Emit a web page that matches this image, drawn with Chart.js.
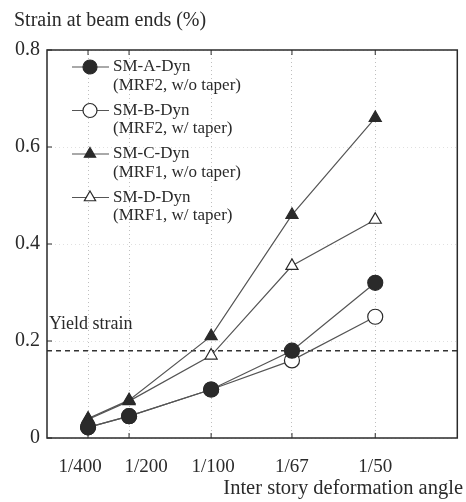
<!DOCTYPE html>
<html>
<head>
    <title>Strain at beam ends</title>
    <script src="https://cdn.jsdelivr.net/npm/chart.js"></script>
    <style>
        body { margin: 0; background: #fff; }
        #wrap { width: 466px; height: 502px; }
    </style>
</head>
<body>
    <div id="wrap"><canvas id="strainChart" width="466" height="502"></canvas></div>

    <script>
        // ===== DATA =====
        const angles = [1/400, 1/200, 1/100, 1/67, 1/50];
        const angleLabels = ['1/400', '1/200', '1/100', '1/67', '1/50'];
        const strainTicks = [0, 0.2, 0.4, 0.6, 0.8];
        const smA = [0.022, 0.045, 0.10, 0.18, 0.32];
        const smB = [0.022, 0.045, 0.10, 0.16, 0.25];
        const smC = [0.04, 0.078, 0.21, 0.46, 0.66];
        const smD = [0.038, 0.076, 0.17, 0.355, 0.45];
        const yieldStrain = 0.18;
        const seriesNames = [
            ['SM-A-Dyn', '(MRF2, w/o taper)'],
            ['SM-B-Dyn', '(MRF2, w/ taper)'],
            ['SM-C-Dyn', '(MRF1, w/o taper)'],
            ['SM-D-Dyn', '(MRF1, w/ taper)']
        ];

        const serif = "'Liberation Serif', 'DejaVu Serif', serif";
        const ink = '#2a2a2a';
        const toPts = ys => angles.map((a, i) => ({ x: a, y: ys[i] }));

        const series = [
            { data: smA, style: 'circle',   fill: ink },
            { data: smB, style: 'circle',   fill: '#fff' },
            { data: smC, style: 'triangle', fill: ink },
            { data: smD, style: 'triangle', fill: '#fff' }
        ];

        const datasets = series.map((s, i) => ({
            label: seriesNames[i][0],
            data: toPts(s.data),
            borderColor: '#555',
            borderWidth: 1.2,
            pointStyle: s.style,
            pointRadius: s.style === 'circle' ? 7.5 : 7,
            pointBackgroundColor: s.fill,
            pointBorderColor: ink,
            pointBorderWidth: 1.2,
            tension: 0
        }));

        datasets.push({
            label: 'Yield strain',
            data: [{ x: 0, y: yieldStrain }, { x: 0.025, y: yieldStrain }],
            borderColor: '#333',
            borderWidth: 1.6,
            borderDash: [5, 4],
            pointRadius: 0
        });

        // ===== FRAME, TITLES, LEGEND =====
        const decor = {
            id: 'decor',
            afterDatasetsDraw(chart) {
                const { ctx, chartArea: a, scales: { x, y } } = chart;
                ctx.save();

                // box + inward ticks
                ctx.strokeStyle = ink;
                ctx.lineWidth = 1.5;
                ctx.strokeRect(a.left, a.top, a.right - a.left, a.bottom - a.top);
                ctx.lineWidth = 1;
                angles.forEach(v => {
                    const px = x.getPixelForValue(v);
                    ctx.beginPath();
                    ctx.moveTo(px, a.bottom); ctx.lineTo(px, a.bottom - 5);
                    ctx.moveTo(px, a.top); ctx.lineTo(px, a.top + 5);
                    ctx.stroke();
                });
                strainTicks.forEach(v => {
                    const py = y.getPixelForValue(v);
                    ctx.beginPath();
                    ctx.moveTo(a.left, py); ctx.lineTo(a.left + 5, py);
                    ctx.stroke();
                });

                // x tick labels (first two nudged apart as in the print)
                const nudge = [-8, 17, 2, 0, 0];
                ctx.fillStyle = ink;
                ctx.font = '19px ' + serif;
                ctx.textAlign = 'center';
                ctx.textBaseline = 'middle';
                angles.forEach((v, i) => {
                    ctx.fillText(angleLabels[i], x.getPixelForValue(v) + nudge[i], a.bottom + 29);
                });

                // axis titles
                ctx.font = '20px ' + serif;
                ctx.textAlign = 'left';
                ctx.fillText('Strain at beam ends (%)', 14, 21);
                ctx.textAlign = 'right';
                ctx.font = '20.5px ' + serif;
                ctx.fillText('Inter story deformation angle', 463, 489);

                // yield label
                ctx.textAlign = 'left';
                ctx.font = '18px ' + serif;
                ctx.fillText('Yield strain', a.left + 2, y.getPixelForValue(yieldStrain) - 26);

                // legend
                ctx.font = '17px ' + serif;
                series.forEach((s, i) => {
                    const cy = a.top + 17 + i * 43.5;
                    ctx.strokeStyle = '#555';
                    ctx.lineWidth = 1.2;
                    ctx.beginPath();
                    ctx.moveTo(a.left + 25, cy); ctx.lineTo(a.left + 62, cy);
                    ctx.stroke();
                    ctx.fillStyle = s.fill;
                    ctx.strokeStyle = ink;
                    Chart.helpers.drawPoint(ctx, {
                        pointStyle: s.style,
                        radius: s.style === 'circle' ? 7 : 6.5,
                        borderWidth: 1.2
                    }, a.left + 43, cy);
                    ctx.fillStyle = ink;
                    ctx.fillText(seriesNames[i][0], a.left + 66, cy);
                    ctx.fillText(seriesNames[i][1], a.left + 66, cy + 18.5);
                });

                ctx.restore();
            }
        };

        // ===== CHART =====
        new Chart(document.getElementById('strainChart'), {
            type: 'line',
            data: { datasets },
            plugins: [decor],
            options: {
                responsive: false,
                animation: false,
                layout: { padding: { top: 50, right: 4, left: 0, bottom: 0 } },
                plugins: { legend: { display: false }, tooltip: { enabled: false } },
                scales: {
                    x: {
                        type: 'linear',
                        min: 0,
                        max: 0.025,
                        afterBuildTicks: s => { s.ticks = angles.map(v => ({ value: v })); },
                        afterFit: s => { s.height = 64; },
                        ticks: { display: false },
                        grid: { color: 'rgba(0,0,0,0.25)', drawTicks: false },
                        border: { display: false, dash: [1, 3] }
                    },
                    y: {
                        min: 0,
                        max: 0.8,
                        afterBuildTicks: s => { s.ticks = strainTicks.map(v => ({ value: v })); },
                        afterFit: s => { s.width = 47; },
                        ticks: {
                            padding: 7,
                            color: ink,
                            font: { family: serif, size: 20 },
                            callback: v => v === 0 ? '0' : v.toFixed(1)
                        },
                        grid: { color: 'rgba(0,0,0,0.12)', drawTicks: false },
                        border: { display: false, dash: [1, 3] }
                    }
                }
            }
        });
    </script>
</body>
</html>
